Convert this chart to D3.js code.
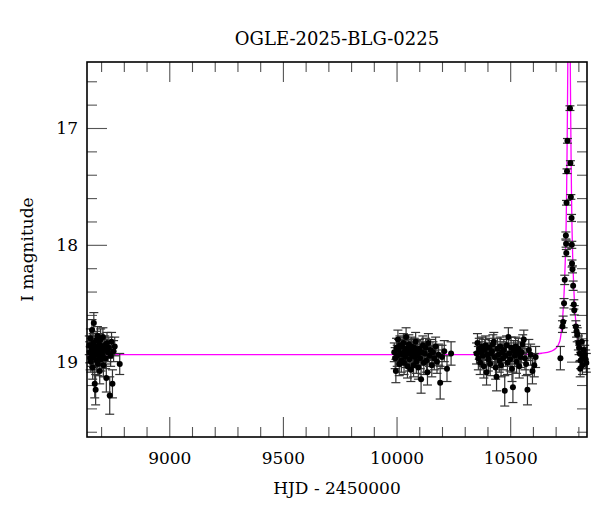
<!DOCTYPE html>
<html><head><meta charset="utf-8">
<script src="https://cdn.jsdelivr.net/npm/d3@7"></script>
<style>
html,body{margin:0;padding:0;background:#fff;}
text{font-family:"DejaVu Serif",serif;fill:#000;}
</style></head>
<body><svg id="c" width="600" height="512"></svg>
<script>
// ---- data ----
const title = "OGLE-2025-BLG-0225";
const xLabel = "HJD - 2450000";
const yLabel = "I magnitude";
const xMajorTicks = [9000, 9500, 10000, 10500];
const xMinorTicks = [8700,8800,8900,9100,9200,9300,9400,9600,9700,9800,9900,10100,10200,10300,10400,10600,10700,10800];
const yMajorTicks = [17, 18, 19];
const yMinorTicks = [16.6,16.8,17.2,17.4,17.6,17.8,18.2,18.4,18.6,18.8,19.2,19.4,19.6];

// season 1
const t1 = [8648,8650,8652,8653,8655,8657,8658,8660,8662,8663,8665,8667,8668,8670,8672,8674,8676,8678,8680,8682,8684,8686,8688,8690,8692,8694,8696,8698,8700,8702,8705,8708,8710,8713,8716,8720,8723,8726,8730,8734,8738,8742,8746,8750,8755,8760,8782];
const m1 = [18.86,18.92,18.97,18.80,19.00,18.88,18.94,18.73,18.90,19.05,18.84,18.96,18.67,18.91,19.19,18.87,19.24,18.82,18.99,18.93,18.78,19.02,18.89,18.95,18.85,19.08,18.92,18.81,18.98,18.88,18.94,18.79,19.03,18.90,18.86,18.97,19.14,18.84,18.92,18.88,19.29,18.95,18.83,19.19,18.91,18.87,19.02];
const e1 = [0.08,0.09,0.10,0.08,0.09,0.08,0.10,0.09,0.08,0.10,0.08,0.09,0.09,0.08,0.12,0.09,0.13,0.08,0.10,0.09,0.08,0.10,0.09,0.08,0.09,0.11,0.08,0.09,0.10,0.08,0.09,0.08,0.10,0.09,0.08,0.09,0.12,0.09,0.08,0.09,0.16,0.09,0.08,0.12,0.09,0.08,0.09];
// season 2
const t2 = [9990,9994,9997,10000,10003,10006,10009,10012,10015,10018,10021,10024,10027,10030,10033,10036,10039,10042,10045,10048,10051,10054,10057,10060,10063,10066,10069,10072,10075,10078,10081,10084,10087,10090,10093,10096,10100,10104,10108,10112,10116,10120,10124,10128,10132,10136,10140,10145,10150,10155,10160,10166,10172,10178,10185,10192,10200,10210,10222,10240];
const m2 = [18.92,18.97,19.08,18.88,18.95,18.81,18.90,19.02,18.86,18.93,18.99,18.87,18.94,18.84,19.01,18.91,18.96,18.79,18.89,19.04,18.93,18.85,18.98,18.90,19.07,18.87,18.95,18.92,19.03,18.88,18.96,18.83,19.00,18.91,18.94,19.05,18.89,18.97,19.15,18.92,18.86,19.01,18.93,18.88,18.99,19.09,18.84,18.95,18.90,19.03,18.92,18.97,18.87,19.00,18.94,19.18,18.96,18.91,19.06,18.93];
const e2 = [0.08,0.09,0.10,0.08,0.09,0.08,0.09,0.10,0.08,0.09,0.10,0.08,0.09,0.08,0.10,0.09,0.09,0.08,0.08,0.10,0.09,0.08,0.10,0.09,0.10,0.08,0.09,0.09,0.10,0.08,0.09,0.08,0.10,0.09,0.09,0.10,0.08,0.09,0.12,0.09,0.08,0.10,0.09,0.08,0.10,0.11,0.08,0.09,0.09,0.10,0.09,0.10,0.08,0.10,0.09,0.14,0.10,0.09,0.11,0.10];
// season 3
const t3 = [10352,10356,10360,10364,10368,10372,10376,10380,10384,10388,10392,10396,10400,10404,10408,10412,10416,10420,10424,10428,10432,10436,10440,10444,10448,10452,10456,10460,10464,10468,10472,10476,10480,10484,10488,10492,10496,10500,10504,10508,10512,10516,10520,10524,10528,10532,10536,10540,10545,10550,10555,10560,10565,10570,10576,10582,10590,10598,10606,10612];
const m3 = [18.93,18.84,18.97,18.89,19.01,18.92,18.87,18.95,19.04,18.90,18.86,19.09,18.94,18.98,18.88,19.02,18.93,18.91,18.85,18.83,18.96,19.05,19.13,18.89,18.94,18.99,18.87,19.03,18.92,18.97,18.90,19.25,18.95,18.86,19.01,18.79,18.93,18.98,18.88,19.06,19.22,18.91,18.95,18.87,19.00,18.93,18.89,19.04,18.96,18.92,18.85,18.81,18.97,19.02,19.24,18.90,18.94,19.08,19.03,18.96];
const e3 = [0.09,0.08,0.10,0.09,0.10,0.09,0.08,0.09,0.10,0.09,0.08,0.11,0.09,0.10,0.08,0.10,0.09,0.09,0.08,0.08,0.09,0.10,0.12,0.09,0.09,0.10,0.08,0.10,0.09,0.10,0.09,0.13,0.09,0.08,0.10,0.08,0.09,0.10,0.09,0.11,0.13,0.09,0.09,0.08,0.10,0.09,0.09,0.10,0.09,0.09,0.08,0.08,0.10,0.10,0.13,0.09,0.09,0.11,0.10,0.09];
// event season
const t4 = [10721,10730,10733,10737,10740,10745,10746,10747,10748,10750,10752,10763,10765,10767,10770,10771,10772,10774,10777,10780,10782,10789,10792,10795,10800,10803,10806,10808,10810,10815,10818,10820,10824,10828,10832,10835];
const m4 = [18.97,18.70,18.66,18.50,18.30,17.92,17.99,18.07,17.64,17.37,17.11,16.83,17.30,17.59,17.77,18.00,18.16,18.21,18.35,18.51,18.56,18.70,18.74,18.77,18.84,18.88,18.93,19.06,18.99,18.83,19.03,18.96,18.90,18.94,18.98,19.01];
const e4 = [0.10,0.05,0.05,0.04,0.04,0.03,0.03,0.03,0.02,0.02,0.02,0.02,0.02,0.02,0.03,0.03,0.03,0.03,0.04,0.04,0.04,0.05,0.05,0.06,0.06,0.06,0.07,0.07,0.07,0.07,0.08,0.08,0.08,0.08,0.08,0.08];

// model curve
const modelT = [8638,10400,10558,10639,10682,10699,10711,10721,10728,10734,10739,10743,10746,10748,10750,10752,10754,10756,10759,10762,10764,10766,10768,10770,10772,10775,10779,10784,10790,10797,10807,10819,10836,10839];
const modelM = [18.94,18.94,18.937,18.928,18.91,18.89,18.86,18.80,18.69,18.53,18.33,18.10,17.85,17.60,17.25,16.85,16.35,16.15,16.00,16.15,16.35,16.85,17.25,17.60,17.85,18.10,18.33,18.53,18.69,18.80,18.86,18.89,18.91,18.912];

// ---- drawing ----
const M = {l:87, t:62, w:500, h:375};
const svg = d3.select("#c");
const x = d3.scaleLinear().domain([8638, 10838]).range([0, M.w]);
const y = d3.scaleLinear().domain([16.435, 19.645]).range([0, M.h]);
const g = svg.append("g").attr("transform", `translate(${M.l},${M.t})`);

svg.append("defs").append("clipPath").attr("id","clip")
  .append("rect").attr("width", M.w).attr("height", M.h);

const pts = [];
[[t1,m1,e1],[t2,m2,e2],[t3,m3,e3],[t4,m4,e4]].forEach(([t,m,e]) => {
  t.forEach((v,i) => pts.push({t:v, m:m[i], e:e[i]}));
});

function styleAxis(sel){
  sel.select(".domain").remove();
  sel.selectAll(".tick line").attr("stroke","#555").attr("stroke-width",1.1);
  sel.selectAll("text").style("font-family","DejaVu Serif").style("font-size","17px").attr("fill","#000");
}
g.append("g").attr("transform",`translate(0,${M.h})`)
  .call(d3.axisBottom(x).tickValues(xMajorTicks).tickSize(-20).tickPadding(15).tickFormat(d3.format("d"))).call(styleAxis);
g.append("g").attr("transform",`translate(0,${M.h})`)
  .call(d3.axisBottom(x).tickValues(xMinorTicks).tickSize(-10).tickFormat("")).call(styleAxis);
g.append("g").call(d3.axisTop(x).tickValues(xMajorTicks).tickSize(-20).tickFormat("")).call(styleAxis);
g.append("g").call(d3.axisTop(x).tickValues(xMinorTicks).tickSize(-10).tickFormat("")).call(styleAxis);
g.append("g").call(d3.axisLeft(y).tickValues(yMajorTicks).tickSize(-20).tickPadding(9).tickFormat(d3.format("d"))).call(styleAxis);
g.append("g").call(d3.axisLeft(y).tickValues(yMinorTicks).tickSize(-10).tickFormat("")).call(styleAxis);
g.append("g").attr("transform",`translate(${M.w},0)`)
  .call(d3.axisRight(y).tickValues(yMajorTicks).tickSize(-20).tickFormat("")).call(styleAxis);
g.append("g").attr("transform",`translate(${M.w},0)`)
  .call(d3.axisRight(y).tickValues(yMinorTicks).tickSize(-10).tickFormat("")).call(styleAxis);

const model = modelT.map((t,i)=>({t, m:modelM[i]}));
g.append("path").datum(model)
  .attr("clip-path","url(#clip)")
  .attr("fill","none").attr("stroke","#ff00ff").attr("stroke-width",1.3)
  .attr("d", d3.line().x(d=>x(d.t)).y(d=>y(d.m)).curve(d3.curveMonotoneX));

const eb = g.append("g").attr("stroke","#333").attr("stroke-width",1.2);
const cap = 4.5;
pts.forEach(p => {
  const cx = x(p.t), y0 = y(p.m - p.e), y1 = y(p.m + p.e);
  eb.append("line").attr("x1",cx).attr("x2",cx).attr("y1",y0).attr("y2",y1);
  eb.append("line").attr("x1",cx-cap).attr("x2",cx+cap).attr("y1",y0).attr("y2",y0);
  eb.append("line").attr("x1",cx-cap).attr("x2",cx+cap).attr("y1",y1).attr("y2",y1);
});
g.append("g").selectAll("circle").data(pts).join("circle")
  .attr("cx",d=>x(d.t)).attr("cy",d=>y(d.m)).attr("r",3).attr("fill","#000");

g.append("rect").attr("width",M.w).attr("height",M.h)
  .attr("fill","none").attr("stroke","#000").attr("stroke-width",1.6);

svg.append("text").attr("x", M.l + M.w/2).attr("y", 45).attr("text-anchor","middle")
  .style("font-size","18px").text(title);
svg.append("text").attr("x", M.l + M.w/2).attr("y", 494).attr("text-anchor","middle")
  .style("font-size","17px").text(xLabel);
svg.append("text").attr("transform",`translate(33,${M.t + M.h/2}) rotate(-90)`).attr("text-anchor","middle")
  .style("font-size","17px").text(yLabel);
</script></body></html>
